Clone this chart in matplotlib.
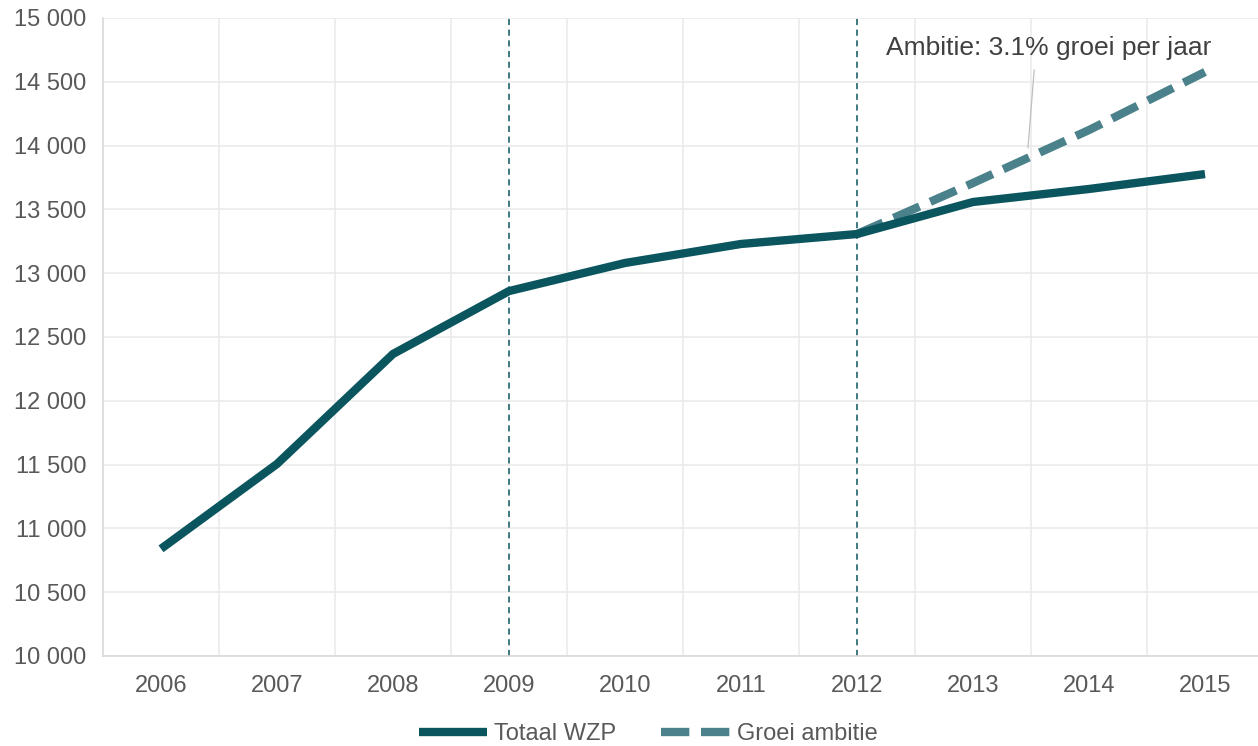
import matplotlib.pyplot as plt
import matplotlib.ticker as ticker
import numpy as np

plt.rcParams['font.family'] = ['Liberation Sans', 'DejaVu Sans']

years = ['2006', '2007', '2008', '2009', '2010', '2011', '2012', '2013', '2014', '2015']
totaal_wzp = [10840, 11505, 12367, 12860, 13080, 13229, 13307, 13558, 13660, 13777]
groei_years = ['2012', '2013', '2014', '2015']
groei_ambitie = [13307, 13707, 14122, 14577]
marker_years = ['2009', '2012']

main_col = '#0B555F'
dash_col = '#4A818A'
text_col = '#595959'
grid_col = '#EBEBEB'

fig = plt.figure(figsize=(12.58, 7.46), dpi=100)
ax = fig.add_axes([103/1258, 1 - 656/746, 1160/1258, 638/746])

x = np.arange(len(years))
xg = [years.index(y) for y in groei_years]

ax.plot(x, totaal_wzp, color=main_col, lw=6, solid_capstyle='butt',
        solid_joinstyle='round', label='Totaal WZP', zorder=4)
ax.plot(xg, groei_ambitie, color=dash_col, lw=6, dashes=(3.4, 1.4),
        dash_capstyle='butt', label='Groei ambitie', zorder=3)

for y in marker_years:
    ax.axvline(years.index(y), color=main_col, lw=1.1, dashes=(4, 3), zorder=2)

ax.set_xlim(-0.5, 9.5)
ax.set_ylim(10000, 15000)
ax.set_xticks(x)
ax.set_xticklabels(years)
ax.xaxis.set_minor_locator(ticker.FixedLocator(x[:-1] + 0.5))
ax.yaxis.set_major_locator(ticker.MultipleLocator(500))
ax.yaxis.set_major_formatter(ticker.FuncFormatter(lambda v, p: f'{int(v):,}'.replace(',', ' ')))

ax.grid(axis='y', which='major', color=grid_col, lw=1.2)
ax.grid(axis='x', which='minor', color=grid_col, lw=1.2)
ax.set_axisbelow(True)
ax.tick_params(which='both', length=0, labelsize=17, colors=text_col)
ax.tick_params(axis='x', pad=14)
ax.tick_params(axis='y', pad=12)
for s in ['top', 'right']:
    ax.spines[s].set_visible(False)
for s in ['left', 'bottom']:
    ax.spines[s].set_color('#D9D9D9')
    ax.spines[s].set_linewidth(1.2)

ax.annotate('Ambitie: 3.1% groei per jaar', xy=(7.474, 13981), xytext=(7.655, 14765),
            fontsize=19, color='#404040', ha='center', va='center',
            arrowprops=dict(arrowstyle='-', color='#BFBFBF', lw=0.9,
                            relpos=(0.457, 0.0), shrinkA=5, shrinkB=0))

fig.legend(loc='lower center', bbox_to_anchor=(648/1258, -0.027), ncol=2,
           frameon=False, fontsize=17, handlelength=2.9, columnspacing=1.9,
           handletextpad=0.3, labelcolor=text_col)

fig.savefig('out.png', dpi=100)
